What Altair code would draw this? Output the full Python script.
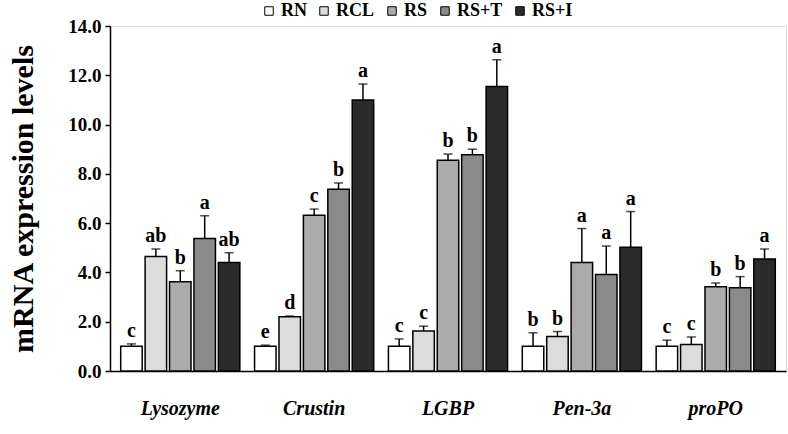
import altair as alt
import pandas as pd

genes = ["Lysozyme", "Crustin", "LGBP", "Pen-3a", "proPO"]
groups = ["RN", "RCL", "RS", "RS+T", "RS+I"]

values = {
    "Lysozyme": [1.0, 4.65, 3.62, 5.38, 4.40],
    "Crustin": [1.0, 2.20, 6.32, 7.38, 11.00],
    "LGBP": [1.0, 1.62, 8.55, 8.78, 11.55],
    "Pen-3a": [1.0, 1.40, 4.40, 3.92, 5.02],
    "proPO": [1.0, 1.08, 3.42, 3.38, 4.55],
}
errors = {
    "Lysozyme": [0.10, 0.30, 0.45, 0.92, 0.40],
    "Crustin": [0.05, 0.03, 0.25, 0.25, 0.65],
    "LGBP": [0.30, 0.20, 0.25, 0.22, 1.08],
    "Pen-3a": [0.55, 0.20, 1.38, 1.15, 1.45],
    "proPO": [0.25, 0.30, 0.15, 0.45, 0.40],
}
letters = {
    "Lysozyme": ["c", "ab", "b", "a", "ab"],
    "Crustin": ["e", "d", "c", "b", "a"],
    "LGBP": ["c", "c", "b", "b", "a"],
    "Pen-3a": ["b", "b", "a", "a", "a"],
    "proPO": ["c", "c", "b", "b", "a"],
}
fills = ["#ffffff", "#dcdcdc", "#ababab", "#8a8a8a", "#2b2b2b"]

rows = []
for g in genes:
    for i, grp in enumerate(groups):
        v = values[g][i]
        e = errors[g][i]
        rows.append({"gene": g, "group": grp, "value": v, "top": v + e, "letter": letters[g][i]})
df = pd.DataFrame(rows)

FONT = "Liberation Serif"

x = alt.X("gene:N", sort=genes,
          scale=alt.Scale(paddingInner=0.11, paddingOuter=0.08),
          axis=alt.Axis(title=None, labelFont=FONT, labelFontSize=20, labelFontWeight="bold",
                        labelFontStyle="italic", labelColor="black", ticks=False,
                        labelPadding=27, domainColor="black", domainWidth=1.5, labelAngle=0))
xo = alt.XOffset("group:N", sort=groups, scale=alt.Scale(paddingInner=0.12, paddingOuter=0))

base = alt.Chart(df)

bars = base.mark_bar(stroke="black", strokeWidth=1.5).encode(
    x=x, xOffset=xo,
    y=alt.Y("value:Q", scale=alt.Scale(domain=[0, 14]),
            axis=alt.Axis(title="mRNA expression levels", values=[0, 2, 4, 6, 8, 10, 12, 14],
                          format=".1f", labelFont=FONT, labelFontSize=19, labelFontWeight="bold",
                          labelColor="black", tickColor="black", tickSize=5, tickWidth=1.5,
                          domainColor="black", domainWidth=1.5, grid=False,
                          titleFont=FONT, titleFontSize=30, titleFontWeight="bold",
                          titleColor="black", titlePadding=29, labelPadding=4)),
    fill=alt.Fill("group:N", sort=groups,
                  scale=alt.Scale(domain=groups, range=fills),
                  legend=alt.Legend(title=None, orient="none", direction="horizontal",
                                    legendX=150, legendY=-24, symbolType="square",
                                    symbolSize=72, symbolStrokeColor="black",
                                    symbolStrokeWidth=1, labelFont=FONT, labelFontSize=18,
                                    labelFontWeight="bold", labelColor="black",
                                    columnPadding=8, labelOffset=3)),
)

rules = base.mark_rule(color="black", strokeWidth=1.5).encode(
    x=x, xOffset=xo, y="value:Q", y2="top:Q")

caps = base.mark_tick(color="black", thickness=1.5, size=9, orient="horizontal").encode(
    x=x, xOffset=xo, y="top:Q")

texts = base.mark_text(font=FONT, fontSize=20, fontWeight="bold", color="black",
                       baseline="bottom", dy=-3).encode(
    x=x, xOffset=xo, y="top:Q", text="letter:N")

chart = alt.layer(bars, rules, caps, texts).properties(
    width=676, height=345,
    autosize=alt.AutoSizeParams(type="none"),
    padding={"left": 110, "top": 26, "right": 2, "bottom": 63},
).configure_view(stroke=None).configure(background="white")

chart.save("out.html", embed_options={"renderer": "svg", "actions": False})
